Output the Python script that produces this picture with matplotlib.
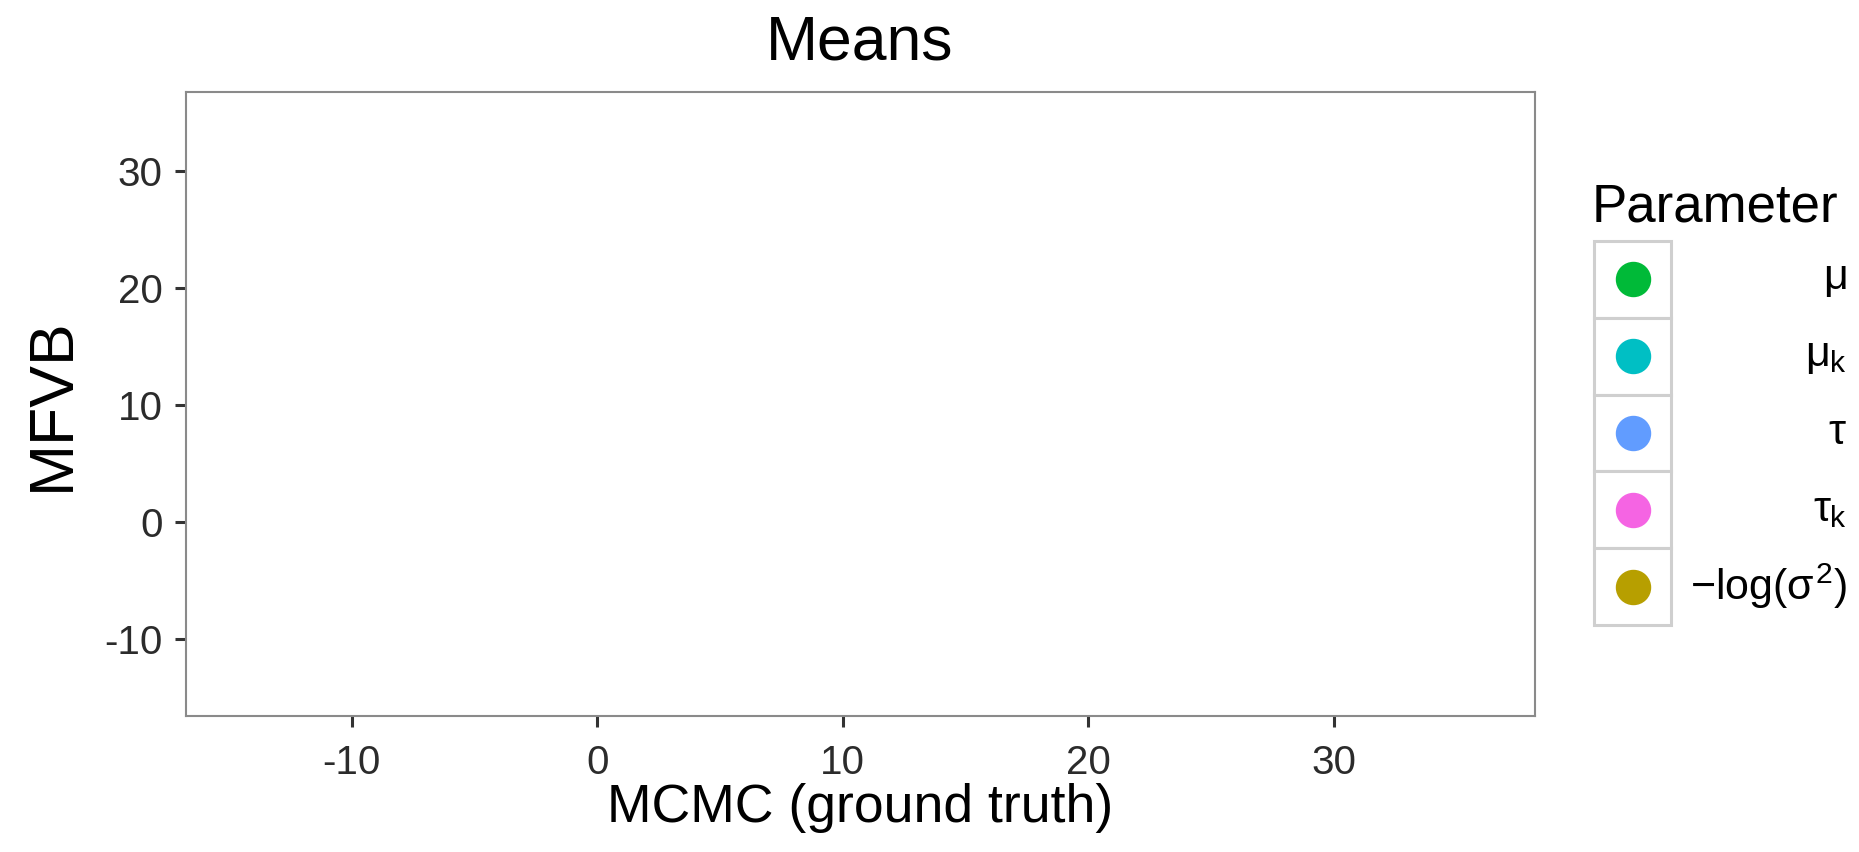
import numpy as np
import matplotlib
matplotlib.use("Agg")
import matplotlib.pyplot as plt
from matplotlib.patches import Rectangle

plt.rcParams['font.family'] = ['Liberation Sans', 'DejaVu Sans']
plt.rcParams['mathtext.fontset'] = 'custom'
plt.rcParams['mathtext.rm'] = 'Liberation Sans'
plt.rcParams['mathtext.it'] = 'Liberation Sans'

# parameters shown in the legend (no points are visible in the panel)
params = [r'$\mu$', r'$\mu_k$', r'$\tau$', r'$\tau_k$', r'$-\log(\sigma^2)$']
colors = ['#00BA38', '#00BFC4', '#619CFF', '#F564E3', '#B79F00']
mcmc = [[], [], [], [], []]
mfvb = [[], [], [], [], []]

xticks = [-10, 0, 10, 20, 30]
yticks = [-10, 0, 10, 20, 30]
xlim = (-16.75, 38.2)
ylim = (-16.6, 36.8)

W, H = 1859, 852
fig = plt.figure(figsize=(W / 100, H / 100), dpi=100)
ax = fig.add_axes([186 / W, 1 - 716 / H, (1535 - 186) / W, (716 - 92) / H])

for i in range(len(params)):
    ax.scatter(mcmc[i], mfvb[i], color=colors[i], s=60)

ax.set_xlim(*xlim)
ax.set_ylim(*ylim)
ax.set_xticks(xticks)
ax.set_yticks(yticks)
ax.set_xticklabels([str(t) for t in xticks])
ax.set_yticklabels([str(t) for t in yticks])
ax.tick_params(axis='both', direction='out', length=8, width=2.2,
               color='#333333', labelcolor='#2b2b2b', labelsize=29)
ax.tick_params(axis='x', pad=12)
ax.tick_params(axis='y', pad=9)
for s in ax.spines.values():
    s.set_color('#8a8a8a')
    s.set_linewidth(1.5)

ax.set_xlabel('MCMC (ground truth)', fontsize=38.5, va='baseline')
ax.xaxis.set_label_coords(0.5, -(822 - 716) / 624)
ax.set_ylabel('MFVB', fontsize=45, va='center', ha='center')
ax.yaxis.set_label_coords((52 - 186) / 1349, 0.5)
fig.text(860 / W, 1 - 59 / H, 'Means', fontsize=45, ha='center', va='baseline')

# legend drawn in its own small axes
kx0, kx1, ky0, ky1 = 1594, 1671, 241, 625
lax = fig.add_axes([kx0 / W, 1 - ky1 / H, (kx1 - kx0) / W, (ky1 - ky0) / H])
lax.set_xlim(0, 1)
lax.set_ylim(len(params), 0)
lax.axis('off')
for i, (lab, c) in enumerate(zip(params, colors)):
    lax.add_patch(Rectangle((0, i), 1, 1, facecolor='white', edgecolor='#cfcfcf',
                            lw=2.2, clip_on=False))
    lax.scatter([0.5], [i + 0.5], s=600, color=c, clip_on=False, zorder=3)
    lax.text((1847 - kx0) / (kx1 - kx0), i + 0.5, lab, fontsize=31,
             ha='right', va='center', clip_on=False)
lax.text((1592 - kx0) / (kx1 - kx0), (222 - ky0) / ((ky1 - ky0) / len(params)),
         'Parameter', fontsize=38, ha='left', va='baseline')

fig.savefig('out.png', dpi=100)
